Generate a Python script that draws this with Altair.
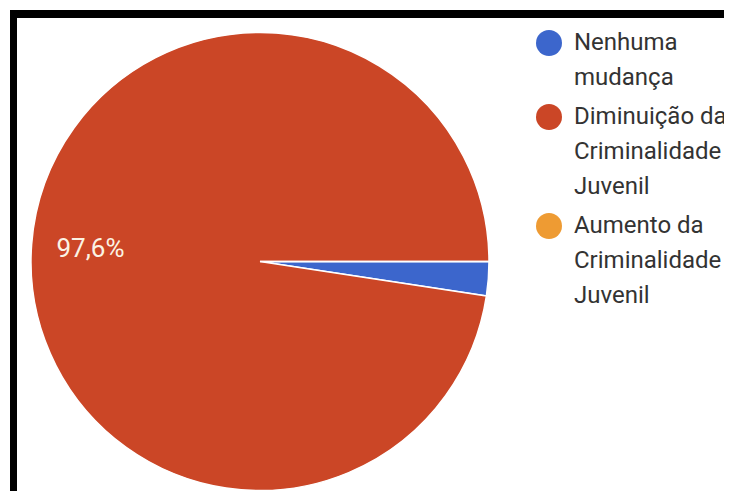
import json
import math
import altair as alt
import pandas as pd

# ---- data ----
categories = [
    "Nenhuma mudança",
    "Diminuição da Criminalidade Juvenil",
    "Aumento da Criminalidade Juvenil",
]
percent = [2.4, 97.6, 0.0]
legend_lines = [
    ["Nenhuma", "mudança"],
    ["Diminuição da", "Criminalidade", "Juvenil"],
    ["Aumento da", "Criminalidade", "Juvenil"],
]
colors = ["#3c66cc", "#cb4626", "#ee9b33"]

df = pd.DataFrame({
    "categoria": categories,
    "pct": percent,
    "ordem": list(range(len(categories))),
})
df["rotulo"] = [(f"{p:.1f}%".replace(".", ",") if p >= 5 else "") for p in percent]

label_expr = ""
for cat, lines in zip(categories, legend_lines):
    label_expr += (f"datum.label === {json.dumps(cat, ensure_ascii=False)} ? "
                   f"{json.dumps(lines, ensure_ascii=False)} : ")
label_expr += "datum.label"

theta = alt.Theta("pct:Q", stack=True,
                  scale=alt.Scale(range=[math.pi / 2, math.pi / 2 + 2 * math.pi]))

base = alt.Chart(df)

pie = base.mark_arc(radius=229, stroke="white", strokeWidth=1.5).encode(
    theta=theta,
    color=alt.Color(
        "categoria:N",
        scale=alt.Scale(domain=categories, range=colors),
        sort=categories,
        legend=alt.Legend(
            orient="none", legendX=528, legendY=-2, title=None,
            symbolType="circle", symbolSize=676, symbolStrokeWidth=0,
            symbolOpacity=1, labelFont="Roboto", labelFontSize=24,
            labelColor="#333333", labelLimit=0, labelOffset=12,
            rowPadding=14, labelExpr=label_expr,
        ),
    ),
    order=alt.Order("ordem:Q"),
)

labels = base.mark_text(radius=170, font="Roboto", fontSize=26,
                        color="#fbf3e4").encode(
    theta=theta,
    text="rotulo:N",
    detail="categoria:N",
    order=alt.Order("ordem:Q"),
)

# black photo frame (top, left, bottom)
frame_top = base.mark_rule(color="black", strokeWidth=8).encode(
    x=alt.value(2), x2=alt.value(740), y=alt.value(-18))
frame_left = base.mark_rule(color="black", strokeWidth=7).encode(
    x=alt.value(5.5), y=alt.value(-22), y2=alt.value(500))
frame_bottom = base.mark_rule(color="black", strokeWidth=8).encode(
    x=alt.value(2), x2=alt.value(740), y=alt.value(473))

chart = alt.layer(pie, labels, frame_top, frame_left, frame_bottom).properties(
    width=504, height=459,
    autosize=alt.AutoSizeParams(type="none"),
    padding={"left": 0, "top": 24, "right": 212, "bottom": 0},
).configure(
    background="white",
    style={"guide-label": {"lineHeight": 35}},
    view=alt.ViewConfig(stroke=None),
)

chart.save("out.html", embed_options={"renderer": "svg", "actions": False})
